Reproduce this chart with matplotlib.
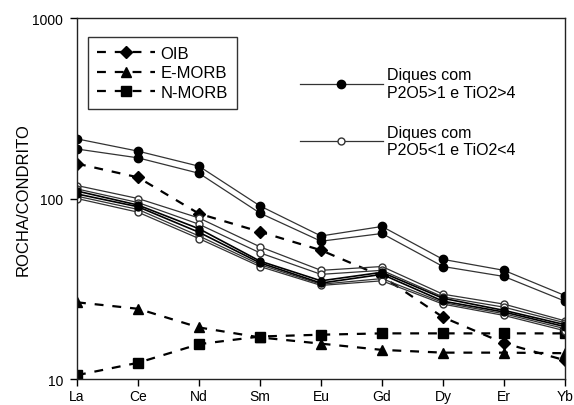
import matplotlib
matplotlib.use('Agg')
import matplotlib.pyplot as plt
from matplotlib.lines import Line2D

plt.rcParams['font.family'] = ['Liberation Sans', 'DejaVu Sans']

elements = ['La', 'Ce', 'Nd', 'Sm', 'Eu', 'Gd', 'Dy', 'Er', 'Yb']

# reference patterns (chondrite normalised)
oib = [156, 131, 82.4, 65.4, 51.7, 37.1, 22.0, 15.8, 12.7]
emorb = [26.6, 24.5, 19.3, 17.0, 15.7, 14.5, 14.0, 14.0, 13.9]
nmorb = [10.5, 12.3, 15.6, 17.2, 17.6, 17.9, 17.9, 17.9, 17.9]

# dikes with P2O5>1 and TiO2>4
high_1 = [214, 183, 151, 91, 62, 70, 46, 40, 29]
high_2 = [188, 168, 138, 83, 58, 64, 42, 37, 27]

# dikes with P2O5<1 and TiO2<4
low_1 = [118, 100, 78, 54, 40, 42, 29.5, 26, 21]
low_2 = [113, 95, 72, 50, 38, 40, 28.5, 25, 20.5]
low_3 = [110, 92, 68, 45, 35, 39, 28, 24, 20]
low_4 = [106, 90, 65, 44, 34, 38, 27, 23.5, 19.5]
low_5 = [103, 87, 62, 43, 33.5, 36, 26.5, 23, 19]
low_6 = [100, 84, 60, 42, 33, 35, 26, 22.5, 18.5]

x = list(range(len(elements)))

fig = plt.figure(figsize=(5.74, 4.06), dpi=100)
ax = fig.add_axes([0.1341, 0.064, 0.8502, 0.8892])

dash = (0, (4, 4))
ax.plot(x, oib, color='black', ls=dash, lw=1.6, marker='D', ms=6.5, label='OIB')
ax.plot(x, emorb, color='black', ls=dash, lw=1.6, marker='^', ms=7.5, label='E-MORB')
ax.plot(x, nmorb, color='black', ls=dash, lw=1.6, marker='s', ms=7, label='N-MORB')

for s in [low_1, low_2, low_5, low_6]:
    ax.plot(x, s, color='#333333', lw=0.9, marker='o', ms=5, mfc='white', mec='#333333')
for s in [low_3, low_4]:
    ax.plot(x, s, color='black', lw=1.2, marker='o', ms=5, mfc='black', mec='black')
for s in [high_1, high_2]:
    ax.plot(x, s, color='#333333', lw=0.9, marker='o', ms=6, mfc='black', mec='black')

ax.set_yscale('log')
ax.set_ylim(10, 1000)
ax.set_xlim(0, 8)
ax.set_xticks(x)
ax.set_xticklabels(elements, fontsize=10)
ax.set_yticks([10, 100, 1000])
ax.set_yticklabels(['10', '100', '1000'], fontsize=10)
ax.yaxis.set_minor_locator(matplotlib.ticker.NullLocator())
ax.tick_params(axis='both', direction='out', length=5, width=1, pad=5)
ax.tick_params(axis='x', pad=2.5)
ax.set_ylabel('ROCHA/CONDRITO', fontsize=12, labelpad=1)
for sp in ax.spines.values():
    sp.set_linewidth(1)
    sp.set_color('#222222')

leg1 = ax.legend(loc='upper left', bbox_to_anchor=(0.0225, 0.947), borderaxespad=0,
                 fontsize=12, handlelength=3.5, frameon=True, fancybox=False,
                 edgecolor='black', borderpad=0.55, labelspacing=0.25, handletextpad=0.3)
leg1.get_frame().set_linewidth(1)
ax.add_artist(leg1)

h_high = Line2D([], [], color='#333333', lw=0.9, marker='o', ms=6, mfc='black', mec='black')
h_low = Line2D([], [], color='#333333', lw=0.9, marker='o', ms=5, mfc='white', mec='#333333')
leg2 = ax.legend([h_high, h_low], ['Diques com\nP2O5>1 e TiO2>4', 'Diques com\nP2O5<1 e TiO2<4'],
                 loc='upper left', bbox_to_anchor=(0.443, 0.881), borderaxespad=0,
                 fontsize=11.5, frameon=False, handlelength=5.25, labelspacing=1.55,
                 handletextpad=0.25)

fig.savefig('out.png', dpi=100)
